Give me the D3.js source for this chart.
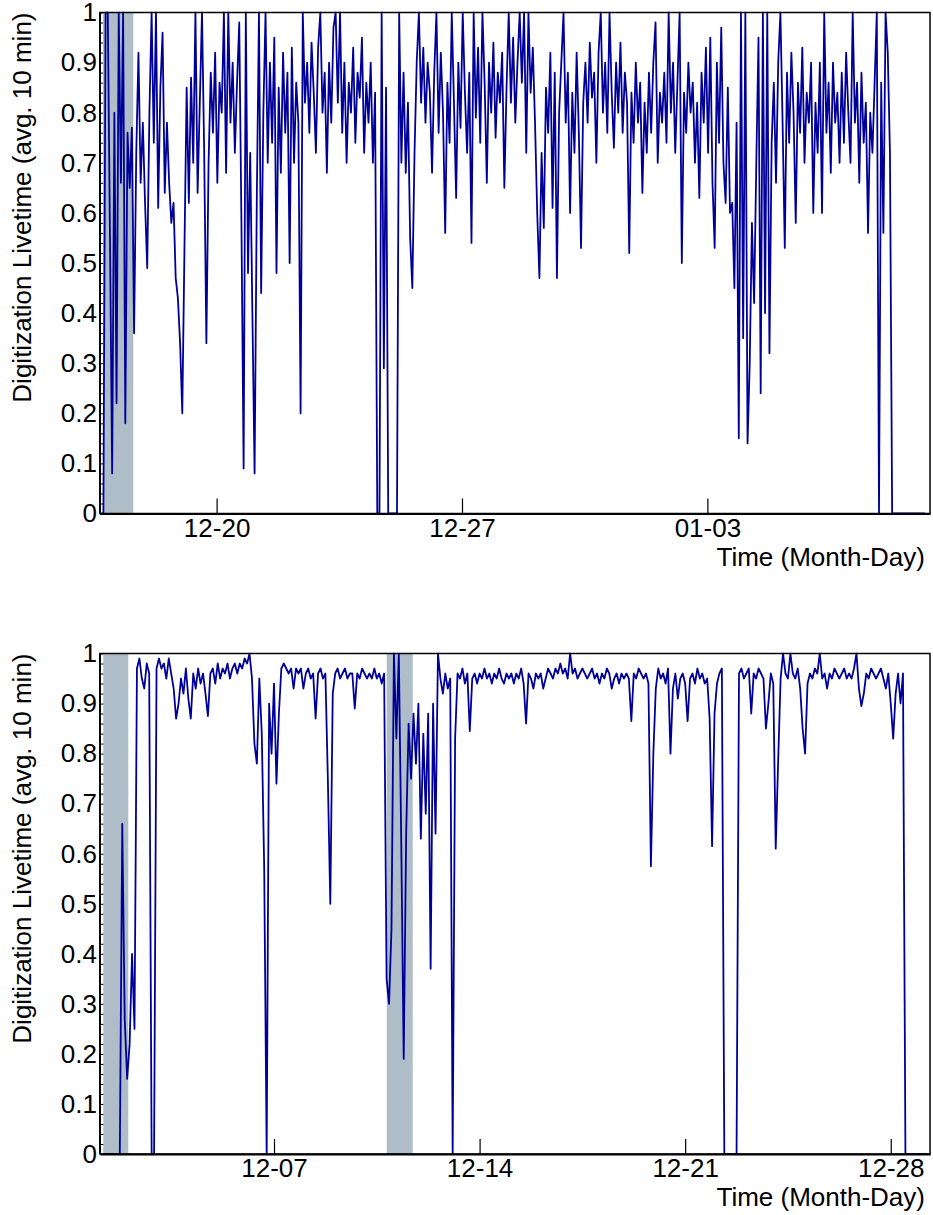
<!DOCTYPE html>
<html><head><meta charset="utf-8">
<script src="https://cdn.jsdelivr.net/npm/d3@7"></script>
<style>
body{margin:0;background:#fff}
svg{display:block}
text{font-family:"Liberation Sans",Arial,Helvetica,sans-serif}
</style>
</head><body>
<svg id="chart" width="933" height="1215"></svg>
<script>
// ---------- DATA ----------
// Top panel: 10-min averaged livetime, sampled every 1.5 h from 2014-12-16 17:00 UTC
const topStart = "2014-12-16T17:00:00Z";
const topStepHours = 1.5;
const topValues = [
0,0,1.0,1.0,0.55,0.08,0.8,0.22,1.0,0.66,
1.0,0.18,0.76,0.65,0.77,0.36,0.72,0.92,0.66,0.78,
0.62,0.49,0.8,1.0,0.74,1.0,0.61,0.85,0.96,0.64,
0.78,0.66,0.58,0.62,0.47,0.43,0.34,0.2,0.53,0.85,
0.62,0.87,0.7,1.0,0.64,0.82,1.0,0.72,0.34,0.7,
0.88,0.76,0.92,0.66,0.86,0.8,1.0,0.68,1.0,0.78,
0.9,0.72,0.86,0.98,0.58,0.09,1.0,0.48,0.72,0.4,
0.08,0.62,1.0,0.44,0.8,1.0,0.7,0.9,0.74,0.95,
0.48,0.85,0.68,0.92,0.76,0.88,0.5,0.93,0.7,0.86,
0.78,0.2,1.0,0.82,0.9,0.76,0.94,0.84,0.72,0.93,
1.0,0.8,0.88,0.68,0.9,0.78,0.97,1.0,0.82,1.0,
0.76,0.9,0.7,0.86,0.8,0.93,0.74,0.88,0.83,0.95,
0.72,0.86,0.78,0.9,0.7,0.84,0,0,1.0,0.29,
0.85,0,0,0,0,0,1.0,0.7,0.88,0.68,
0.82,0.55,0.45,0.72,0.9,1.0,0.82,0.93,0.78,0.9,
0.84,0.68,0.88,1.0,0.76,0.92,0.8,0.56,0.86,0.74,
1.0,0.82,0.63,0.9,0.77,1.0,0.84,0.72,0.88,0.54,
1.0,0.79,0.93,0.74,1.0,0.86,0.66,0.9,0.8,0.94,
0.75,0.88,0.82,0.92,0.65,0.85,1.0,0.82,0.95,0.78,
0.9,1.0,0.86,1.0,0.72,1.0,0.84,0.93,0.78,0.6,
0.47,0.72,0.57,0.85,0.76,0.92,0.61,0.88,0.47,0.8,
0.9,1.0,0.78,0.88,0.6,0.84,0.72,0.92,0.76,0.53,
0.82,0.9,0.78,0.94,0.83,0.88,0.7,0.92,1.0,0.8,
0.9,0.76,1.0,0.84,0.73,0.9,0.8,0.94,0.76,0.88,
0.82,0.52,0.84,0.74,0.9,0.78,0.86,0.64,0.82,0.72,
0.88,0.76,0.9,0.98,0.7,0.84,0.78,0.88,0.74,1.0,
0.8,0.9,0.72,0.86,1.0,0.5,0.84,0.76,0.9,0.8,
0.86,0.7,0.82,0.63,0.88,0.78,0.93,0.72,0.95,0.66,
0.53,0.9,0.74,0.97,0.7,0.62,0.85,0.6,0.62,0.45,
0.78,0.15,1.0,0.35,1.0,0.14,0.3,0.58,0.42,0.7,
0.95,0.24,1.0,0.4,1.0,0.32,0.74,0.86,0.66,0.9,
1.0,0.78,0.53,0.88,0.74,0.92,0.8,0.58,0.86,0.76,
0.93,0.7,0.84,0.78,0.9,0.6,0.82,0.72,0.9,0.6,
1.0,0.76,0.86,0.68,0.9,0.78,0.84,0.7,0.88,0.74,
0.92,0.8,0.7,1.0,0.78,0.86,0.66,0.88,0.74,0.82,
0.56,0.8,0.72,0.86,1.0,0,0.86,0.56,1.0,0.92,
0.72,0,0,0,0,0,0,0,0,0,
0,0,0,0,0,0,0
];
// Bottom panel: sampled every 2 h from 2013-12-01 02:00 UTC
const botStart = "2013-12-01T02:00:00Z";
const botStepHours = 2;
const botValues = [
0,0,0,0,0,0,0,0,0,0.66,
0.27,0.15,0.22,0.4,0.25,0.97,0.99,0.95,0.93,0.98,
0.96,0,0,0.97,0.99,0.97,0.98,0.95,0.99,0.96,
0.93,0.87,0.9,0.95,0.92,0.97,0.91,0.87,0.96,0.93,
0.97,0.94,0.96,0.92,0.875,0.96,0.97,0.94,0.98,0.95,
0.97,0.96,0.98,0.95,0.97,0.98,0.96,0.98,0.97,0.99,
0.98,1.0,0.95,0.82,0.78,0.95,0.84,0.57,0,0.9,
0.8,0.94,0.74,0.88,0.97,0.98,0.97,0.96,0.97,0.93,
0.97,0.96,0.97,0.93,0.96,0.97,0.95,0.96,0.87,0.96,
0.97,0.95,0.96,0.75,0.5,0.92,0.96,0.97,0.95,0.96,
0.97,0.95,0.96,0.96,0.89,0.96,0.95,0.97,0.96,0.95,
0.96,0.95,0.97,0.95,0.96,0.94,0.96,0.35,0.3,0.45,
1.0,0.83,1.0,0.62,0.19,0.64,0.86,0.75,0.88,0.78,
0.9,0.63,0.84,0.68,0.88,0.37,0.9,0.64,1.0,0.95,
0.92,0.96,0.93,0.95,0,0.83,0.96,0.95,0.97,0.94,
0.96,0.845,0.95,0.96,0.94,0.96,0.95,0.97,0.95,0.96,
0.94,0.96,0.95,0.97,0.95,0.94,0.96,0.95,0.96,0.94,
0.96,0.95,0.97,0.94,0.86,0.96,0.95,0.93,0.96,0.95,
0.96,0.93,0.95,0.97,0.96,0.95,0.97,0.96,0.98,0.96,
0.97,0.95,1.0,0.96,0.97,0.95,0.96,0.97,0.96,0.95,
0.96,0.97,0.95,0.96,0.94,0.96,0.95,0.97,0.96,0.93,
0.95,0.96,0.94,0.96,0.95,0.96,0.95,0.865,0.96,0.95,
0.97,0.96,0.95,0.96,0.94,0.575,0.8,0.93,0.97,0.95,
0.96,0.94,0.97,0.8,0.93,0.96,0.91,0.95,0.96,0.94,
0.865,0.95,0.96,0.94,0.97,0.95,0.96,0.94,0.95,0.87,
0.615,0.88,0.94,0.96,0.97,0,0,0,0,0,
0,0.96,0.97,0.95,0.96,0.97,0.88,0.96,0.95,0.97,
0.96,0.95,0.85,0.9,0.96,0.94,0.61,0.785,0.95,1.0,
0.96,0.95,1.0,0.96,0.95,0.97,0.93,0.85,0.8,0.94,
0.96,0.95,0.97,0.96,1.0,0.95,0.96,0.93,0.96,0.95,
0.97,0.96,0.95,0.96,0.97,0.95,0.96,0.95,0.97,1.0,
0.93,0.895,0.92,0.96,0.95,0.97,0.96,0.95,0.96,0.97,
0.95,0.93,0.96,0.9,0.83,0.92,0.96,0.9,0.96,0,
0,0,0,0,0,0,0,0,0
];
const topDomain = ["2014-12-16T16:10:00Z","2015-01-09T08:25:00Z"];
const botDomain = ["2013-12-01T01:48:00Z","2013-12-29T08:05:00Z"];
const topTickDates = ["2014-12-20T00:00:00Z","2014-12-27T00:00:00Z","2015-01-03T00:00:00Z"];
const botTickDates = ["2013-12-07T00:00:00Z","2013-12-14T00:00:00Z","2013-12-21T00:00:00Z","2013-12-28T00:00:00Z"];
const topShade = [["2014-12-16T18:13:00Z","2014-12-17T14:58:00Z"]];
const botShade = [["2013-12-01T04:29:00Z","2013-12-02T00:56:00Z"],["2013-12-10T20:05:00Z","2013-12-11T17:20:00Z"]];
const yMajorTicks = [0,0.1,0.2,0.3,0.4,0.5,0.6,0.7,0.8,0.9,1];
const yMinorTicks = [0.02,0.04,0.06,0.08,0.12,0.14,0.16,0.18,0.22,0.24,0.26,0.28,0.32,0.34,0.36,0.38,0.42,0.44,0.46,0.48,0.52,0.54,0.56,0.58,0.62,0.64,0.66,0.68,0.72,0.74,0.76,0.78,0.82,0.84,0.86,0.88,0.92,0.94,0.96,0.98];
const yTitle = "Digitization Livetime (avg. 10 min)";
const xTitle = "Time (Month-Day)";

// ---------- DRAW ----------
const svg = d3.select("#chart");
const L = 100, R = 930, FS = 26;
const lineColor = "#000099", shadeColor = "#aebdc7";

function panel(id, top, bottom, domain, start, stepH, values, shade, tickDates){
  const x = d3.scaleUtc().domain(domain.map(d=>new Date(d))).range([L, R]);
  const y = d3.scaleLinear().domain([0,1]).range([bottom, top]);
  const t0 = new Date(start).getTime();
  const pts = values.map((v,i)=>({t:new Date(t0 + i*stepH*3600e3), v}));
  const g = svg.append("g");
  g.append("clipPath").attr("id","clip"+id).append("rect")
    .attr("x",L).attr("y",top-1).attr("width",R-L).attr("height",bottom-top+2);
  const yMinor = g.append("g").attr("transform",`translate(${L},0)`)
    .call(d3.axisLeft(y).tickValues(yMinorTicks).tickSize(-4).tickSizeOuter(0).tickFormat(""));
  yMinor.select(".domain").remove();
  yMinor.selectAll("line").attr("stroke","#000").attr("stroke-width",1);
  const yMaj = g.append("g").attr("transform",`translate(${L},0)`)
    .call(d3.axisLeft(y).tickValues(yMajorTicks).tickSize(-8).tickSizeOuter(0).tickPadding(3)
      .tickFormat(v=> v===0?"0":(v===1?"1":v.toFixed(1))));
  yMaj.attr("font-size",FS).attr("font-family",null);
  yMaj.selectAll("line").attr("stroke","#000").attr("stroke-width",1);
  yMaj.selectAll("text").attr("fill","#000");
  yMaj.select(".domain").remove();
  g.append("g").selectAll("rect").data(shade).join("rect")
    .attr("x",d=>x(new Date(d[0]))).attr("width",d=>x(new Date(d[1]))-x(new Date(d[0])))
    .attr("y",top).attr("height",bottom-top).attr("fill",shadeColor);
  g.append("path").datum(pts).attr("clip-path",`url(#clip${id})`)
    .attr("fill","none").attr("stroke",lineColor).attr("stroke-width",1.8)
    .attr("stroke-linejoin","round")
    .attr("d", d3.line().x(d=>x(d.t)).y(d=>y(d.v)));
  g.append("rect").attr("x",L).attr("y",top).attr("width",R-L).attr("height",bottom-top)
    .attr("fill","none").attr("stroke","#000").attr("stroke-width",1.5);
  g.append("line").attr("x1",L).attr("x2",L).attr("y1",top).attr("y2",bottom).attr("stroke","#000").attr("stroke-width",2);
  const xa = g.append("g").attr("transform",`translate(0,${bottom})`)
    .call(d3.axisBottom(x).tickValues(tickDates.map(d=>new Date(d))).tickSize(-15).tickSizeOuter(0)
      .tickPadding(5).tickFormat(d3.utcFormat("%m-%d")));
  xa.attr("font-size",FS).attr("font-family",null);
  xa.select(".domain").attr("stroke","#000").attr("stroke-width",2);
  xa.selectAll("line").attr("stroke","#000").attr("stroke-width",1.2);
  xa.selectAll("text").attr("fill","#000");
  g.append("text").attr("x",925).attr("y",bottom+52).attr("text-anchor","end")
    .attr("font-size",FS).text(xTitle);
  g.append("text").attr("transform",`translate(31,${top}) rotate(-90)`).attr("text-anchor","end")
    .attr("font-size",FS).text(yTitle);
}

panel("a", 12.5, 513.5, topDomain, topStart, topStepHours, topValues, topShade, topTickDates);
panel("b", 653.5, 1154, botDomain, botStart, botStepHours, botValues, botShade, botTickDates);
</script>
</body></html>
